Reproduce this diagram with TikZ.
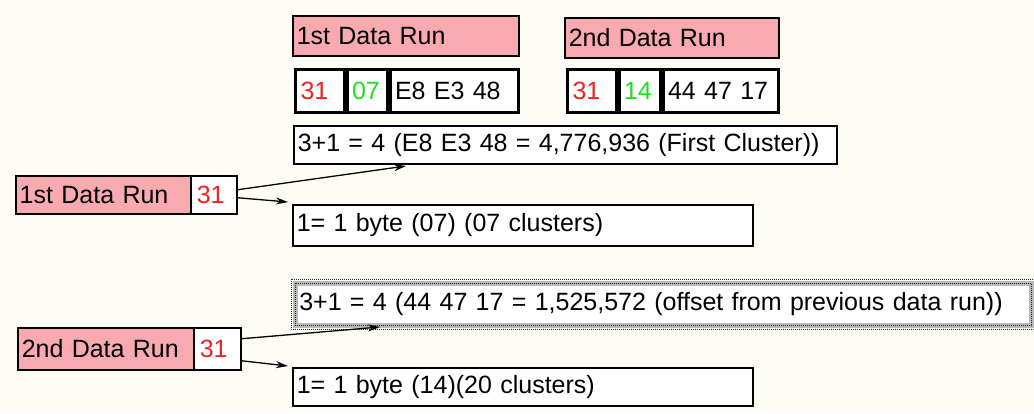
\documentclass[tikz,border=0pt]{standalone}
\usepackage{fontspec}
\setmainfont{Liberation Sans}
\usetikzlibrary{arrows.meta}
\definecolor{bgc}{HTML}{FDFDF6}
\definecolor{pinkc}{HTML}{F9AAB1}
\definecolor{redc}{HTML}{EE2222}
\definecolor{greenc}{HTML}{22DD22}
\tikzset{
  box/.style 2 args={draw, line width=1.5pt, fill=white, anchor=north west,
    text width=#1pt, minimum height=#2pt, inner xsep=0pt, inner ysep=0pt,
    align=left, font=\fontsize{25}{28}\selectfont,
    execute at begin node={\hspace*{4pt}}},
  pinkbox/.style={fill=pinkc},
  cellbox/.style 2 args={box={#1}{#2}, line width=3pt, execute at begin node={\hspace*{1pt}}},
  conn/.style={-{Stealth[length=12pt,width=7pt]}, line width=1.3pt},
}
\begin{document}
\begin{tikzpicture}[x=1pt,y=-1pt]
\fill[bgc] (0,0) rectangle (1034,413);
\useasboundingbox (0,0) rectangle (1034,413);

% top titles
\node[box={226}{40}, pinkbox] (title1) at (292,15) {1st Data Run};
\node[box={214}{40}, pinkbox] (title2) at (564,17) {2nd Data Run};

% byte cells
\node[cellbox={48.5}{43}] (c11) at (294,68) {\textcolor{redc}{31}};
\node[cellbox={40}{43}] (c12) at (345.5,68) {\textcolor{greenc}{07}};
\node[cellbox={128.5}{43}] (c13) at (388.5,68) {E8 E3 48};
\node[cellbox={48.5}{43}] (c21) at (566,68) {\textcolor{redc}{31}};
\node[cellbox={41}{43}] (c22) at (617.5,68) {\textcolor{greenc}{14}};
\node[cellbox={115.5}{43}] (c23) at (661.5,68) {44 47 17};

% first data run explanation
\node[box={543}{38}] (long1) at (293,125) {3+1 = 4 (E8 E3 48 = 4,776,936 (First Cluster))};
\node[box={175}{38}, pinkbox] (left1) at (15,175) {1st Data Run};
\node[box={46}{38}, execute at begin node={\hspace*{2pt}}] (left1n) at (190,175) {\textcolor{redc}{31}};
\node[box={460}{41}] (byte1) at (292,204) {1= 1 byte (07) (07 clusters)};

% second data run explanation
\node[box={736}{42}, draw=gray!55, line width=4.5pt] (long2) at (293,281) {3+1 = 4 (44 47 17 = 1,525,572 (offset from previous data run))};
\draw[gray!30!black, line width=0.9pt, dash pattern=on 1pt off 1pt]
  ([shift={(-2pt,2pt)}]long2.north west) rectangle ([shift={(2pt,-2pt)}]long2.south east);
\draw[gray!30!black, line width=0.9pt, dash pattern=on 1pt off 1pt]
  ([shift={(2pt,-2pt)}]long2.north west) rectangle ([shift={(-2pt,2pt)}]long2.south east);
\node[box={176}{42}, pinkbox] (left2) at (17,327) {2nd Data Run};
\node[box={47}{42}, execute at begin node={\hspace*{2pt}}] (left2n) at (193,327) {\textcolor{redc}{31}};
\node[box={460}{38}] (byte2) at (292,367) {1= 1 byte (14)(20 clusters)};

% arrow tips
\coordinate (t1) at (406,166);
\coordinate (t2) at (288,202);
\coordinate (t3) at (380,327);
\coordinate (t4) at (288,366);

\draw[conn] ([yshift=5pt]left1n.east) -- (t1);
\draw[conn] ([yshift=-3pt]left1n.east) -- (t2);
\draw[conn] ([yshift=10pt]left2n.east) -- (t3);
\draw[conn] ([yshift=-12pt]left2n.east) -- (t4);
\end{tikzpicture}
\end{document}
